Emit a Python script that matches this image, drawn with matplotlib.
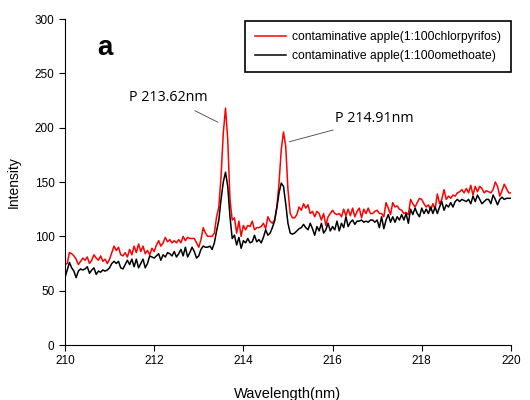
import numpy as np
import matplotlib
matplotlib.use("Agg")
import matplotlib.pyplot as plt

# Intensity, 0.05 nm steps from 210 to 220 nm
red_chlorpyrifos = [
    74, 75, 85, 84, 82, 79, 74, 77, 80, 78, 81, 75, 78, 83, 80, 78, 82, 77, 79, 75,
    79, 85, 91, 87, 90, 83, 82, 85, 81, 88, 83, 91, 85, 93, 86, 91, 84, 87, 83, 89,
    86, 92, 96, 91, 94, 99, 95, 97, 94, 96, 94, 97, 94, 100, 96, 99, 98, 98, 98, 94,
    90, 97, 108, 103, 100, 100, 100, 103, 118, 127, 155, 195, 218, 189, 134, 115, 117, 103, 114, 100,
    110, 106, 110, 109, 114, 106, 108, 108, 109, 112, 107, 118, 114, 112, 115, 127, 149, 180, 196, 183,
    143, 121, 117, 117, 120, 127, 124, 130, 126, 129, 121, 123, 118, 123, 121, 115, 121, 110, 118, 121,
    124, 121, 120, 121, 118, 125, 119, 125, 119, 126, 118, 123, 126, 117, 125, 121, 126, 121, 121, 123,
    124, 121, 121, 118, 131, 126, 120, 131, 127, 128, 125, 124, 121, 122, 120, 134, 130, 127, 131, 135,
    134, 130, 127, 129, 124, 130, 125, 139, 130, 134, 143, 134, 137, 135, 138, 137, 140, 141, 143, 140,
    144, 140, 147, 138, 146, 141, 146, 144, 140, 142, 141, 140, 143, 150, 146, 137, 142, 148, 144, 140,
    140,
]
black_omethoate = [
    62, 69, 76, 71, 68, 62, 68, 70, 69, 70, 72, 66, 69, 71, 65, 68, 67, 69, 68, 69,
    71, 75, 77, 75, 77, 71, 70, 74, 78, 74, 79, 72, 79, 71, 75, 79, 71, 75, 82, 81,
    80, 82, 84, 78, 83, 81, 85, 84, 82, 86, 81, 84, 88, 82, 90, 81, 85, 90, 86, 80,
    82, 88, 91, 90, 90, 91, 88, 94, 105, 115, 134, 150, 159, 146, 118, 98, 101, 92, 99, 89,
    96, 94, 98, 94, 95, 101, 95, 97, 94, 99, 106, 101, 103, 108, 114, 126, 140, 149, 146, 130,
    112, 103, 102, 103, 105, 107, 108, 111, 108, 106, 112, 107, 101, 109, 105, 112, 103, 106, 112, 105,
    109, 106, 114, 105, 112, 108, 118, 109, 113, 115, 111, 114, 114, 115, 113, 114, 113, 115, 115, 113,
    115, 108, 118, 107, 115, 120, 113, 118, 113, 118, 115, 120, 115, 121, 112, 125, 120, 126, 121, 118,
    126, 121, 125, 121, 127, 121, 127, 121, 127, 132, 124, 129, 127, 131, 127, 132, 134, 132, 134, 133,
    132, 134, 130, 137, 132, 138, 134, 130, 132, 134, 134, 130, 138, 134, 129, 134, 136, 134, 135, 135,
    135,
]
wavelength = np.linspace(210, 220, len(red_chlorpyrifos))

series_labels = ["contaminative apple(1:100chlorpyrifos)",
                 "contaminative apple(1:100omethoate)"]
peak_labels = ["P 213.62nm", "P 214.91nm"]

plt.rcParams['font.family'] = ['Liberation Sans', 'DejaVu Sans']

fig = plt.figure(figsize=(5.3, 4.0), dpi=100)
ax = fig.add_axes([0.1226, 0.1375, 0.8414, 0.815])

ax.plot(wavelength, red_chlorpyrifos, color='#ff0000', linewidth=1.1, label=series_labels[0])
ax.plot(wavelength, black_omethoate, color='black', linewidth=1.1, label=series_labels[1])

ax.set_xlim(210, 220)
ax.set_ylim(0, 300)
ax.set_xticks(np.arange(210, 221, 2))
ax.set_yticks(np.arange(0, 301, 50))
ax.spines['top'].set_visible(False)
ax.spines['right'].set_visible(False)
ax.tick_params(direction='out', length=4, width=0.8, labelsize=8.5)
ax.set_xlabel("Wavelength(nm)", fontsize=10.5, labelpad=14)
ax.set_ylabel("Intensity", fontsize=10, labelpad=10)

# peak annotations with thin leader lines
ax.annotate(peak_labels[0], xy=(213.43, 205), xytext=(212.31, 228),
            ha='center', va='center', fontsize=10.3, family=['Open Sans', 'DejaVu Sans'],
            arrowprops=dict(arrowstyle='-', color='#444444', lw=0.6, shrinkA=5, shrinkB=0))
ax.annotate(peak_labels[1], xy=(215.03, 187), xytext=(216.93, 208),
            ha='center', va='center', fontsize=10.3, family=['Open Sans', 'DejaVu Sans'],
            arrowprops=dict(arrowstyle='-', color='#444444', lw=0.6, shrinkA=2, shrinkB=0))

ax.text(210.9, 273, "a", fontsize=20, fontweight='bold', ha='center', va='center')

leg = ax.legend(loc='upper right', bbox_to_anchor=(1.0, 0.994), borderaxespad=0,
                fontsize=8.7, frameon=True, fancybox=False, edgecolor='black',
                framealpha=1, handlelength=2.5, handletextpad=0.5,
                borderpad=0.85, labelspacing=0.55)
leg.get_frame().set_linewidth(1.2)

fig.savefig("out.png", dpi=100)
